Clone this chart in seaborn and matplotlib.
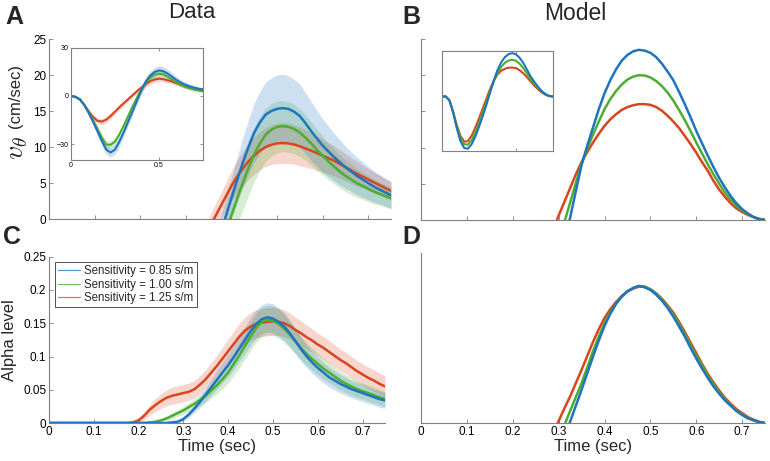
import numpy as np
import matplotlib
matplotlib.use("Agg")
import matplotlib.pyplot as plt
from matplotlib.lines import Line2D
import seaborn as sns

# =========================================
# Data
# =========================================

labels = ["Sensitivity = 0.85 s/m", "Sensitivity = 1.00 s/m", "Sensitivity = 1.25 s/m"]
colors = ["#1F74C0", "#4DAD2E", "#D8451E"]   # blue, green, red

# Panel A main: tangential velocity (cm/sec), mean and spread
t_a = np.round(np.arange(0.35, 0.7501, 0.0125), 4)
a_blue = [-7.0, -4.6, -2.3, 0.3, 2.9, 5.4, 7.8, 10.0, 12.0, 13.4, 14.5, 15.0, 15.3,
          15.4, 15.3, 14.9, 14.3, 13.3, 12.2, 11.2, 10.2, 9.4, 8.6, 7.9, 7.2,
          6.6, 6.0, 5.5, 5.0, 4.5, 4.1, 3.7, 3.3]
a_green = [-9.0, -6.6, -4.2, -1.8, 0.5, 2.8, 5.0, 7.1, 9.0, 10.5, 11.7, 12.4, 12.8,
           12.9, 12.8, 12.5, 12.0, 11.3, 10.5, 9.6, 8.8, 8.0, 7.3, 6.6, 6.0,
           5.5, 5.0, 4.6, 4.2, 3.8, 3.5, 3.2, 2.9]
a_red = [-1.4, 0.1, 1.6, 3.1, 4.6, 5.9, 7.0, 8.0, 8.8, 9.5, 10.0, 10.3, 10.5,
         10.55, 10.5, 10.35, 10.1, 9.8, 9.5, 9.15, 8.8, 8.45, 8.1, 7.65, 7.2,
         6.75, 6.3, 5.9, 5.5, 5.1, 4.7, 4.3, 3.9]
a_blue_sd = [2.0, 2.15, 2.3, 2.55, 2.8, 3.15, 3.5, 3.8, 4.1, 4.3, 4.5, 4.6, 4.7,
             4.7, 4.6, 4.5, 4.4, 4.25, 4.1, 3.9, 3.7, 3.5, 3.3, 3.1, 2.9,
             2.75, 2.6, 2.45, 2.3, 2.15, 2.0, 1.9, 1.8]
a_green_sd = [2.5, 2.75, 3.0, 3.25, 3.5, 3.65, 3.8, 3.8, 3.8, 3.75, 3.7, 3.65, 3.6,
              3.55, 3.5, 3.4, 3.3, 3.15, 3.0, 2.85, 2.7, 2.55, 2.4, 2.3, 2.2,
              2.1, 2.0, 1.9, 1.8, 1.7, 1.6, 1.55, 1.5]
a_red_sd = [1.5, 1.65, 1.8, 1.95, 2.1, 2.25, 2.4, 2.5, 2.6, 2.65, 2.7, 2.75, 2.8,
            2.8, 2.8, 2.75, 2.7, 2.6, 2.5, 2.4, 2.3, 2.2, 2.1, 2.0, 1.9,
            1.8, 1.7, 1.6, 1.5, 1.45, 1.4, 1.35, 1.3]

# Insets (whole movement)
t_in = np.round(np.arange(0.0, 0.7501, 0.025), 4)
ia_blue = [0, -0.5, -2.0, -5.5, -10.5, -16.0, -22.0, -28.0, -33.5, -35.3,
           -33.5, -28.5, -22.5, -16.0, -9.5, -3.0, 3.5, 9.0, 12.8, 15.0,
           16.0, 15.5, 14.0, 12.0, 10.0, 8.3, 7.0, 6.0, 5.2, 4.5, 4.0]
ia_green = [0, -0.5, -2.0, -5.3, -10.0, -15.0, -20.5, -26.0, -30.3, -30.5,
            -28.5, -24.0, -18.5, -12.5, -6.5, -1.0, 4.2, 8.5, 11.5, 13.3,
            14.0, 13.5, 12.0, 10.3, 8.5, 7.0, 5.8, 4.8, 4.0, 3.5, 3.0]
ia_red = [0, -0.5, -2.3, -5.5, -9.5, -13.0, -15.5, -16.0, -14.8, -12.5,
          -9.8, -7.0, -4.5, -2.0, 0.5, 3.0, 5.3, 7.5, 9.3, 10.3,
          10.8, 10.5, 9.8, 9.0, 8.0, 7.0, 6.0, 5.3, 4.8, 4.4, 4.0]
ia_blue_sd = [0, 0.3, 0.6, 1.0, 1.5, 2.0, 2.4, 2.8, 3.0, 3.0,
              3.0, 2.8, 2.6, 2.5, 2.4, 2.4, 2.5, 2.7, 2.9, 3.0,
              3.0, 2.9, 2.7, 2.5, 2.2, 2.0, 1.8, 1.6, 1.4, 1.3, 1.2]
ia_green_sd = [0, 0.2, 0.5, 0.8, 1.2, 1.6, 2.0, 2.3, 2.5, 2.5,
               2.4, 2.2, 2.1, 2.0, 1.9, 1.9, 2.0, 2.1, 2.2, 2.3,
               2.3, 2.2, 2.1, 1.9, 1.7, 1.5, 1.4, 1.2, 1.1, 1.0, 1.0]
ia_red_sd = [0, 0.2, 0.4, 0.7, 1.0, 1.3, 1.6, 1.8, 1.9, 1.9,
             1.8, 1.7, 1.6, 1.5, 1.5, 1.5, 1.6, 1.7, 1.8, 1.8,
             1.8, 1.7, 1.6, 1.5, 1.4, 1.3, 1.2, 1.1, 1.0, 1.0, 1.0]

ib_blue = [0, 0, -2.5, -10.5, -21.0, -29.5, -34.0, -34.5, -31.5, -26.5,
           -20.0, -13.0, -5.5, 2.5, 10.5, 17.5, 22.5, 26.0, 28.0, 28.6,
           27.8, 25.5, 22.0, 17.5, 13.0, 9.5, 6.2, 3.5, 1.5, 0.3, 0.0]
ib_green = [0, 0, -2.5, -10.0, -19.5, -27.0, -31.5, -31.8, -29.0, -24.0,
            -17.5, -10.5, -3.5, 3.5, 10.0, 15.5, 19.5, 22.3, 23.8, 24.2,
            23.6, 21.6, 18.6, 15.0, 11.3, 8.0, 5.2, 3.0, 1.3, 0.3, 0.0]
ib_red = [0, 0, -2.5, -10.0, -19.0, -26.0, -29.8, -29.5, -26.0, -20.5,
          -14.5, -8.0, -1.5, 5.0, 10.5, 14.5, 17.0, 18.3, 19.0, 19.1,
          18.7, 17.3, 15.2, 12.6, 9.8, 7.0, 4.6, 2.6, 1.1, 0.3, 0.0]

# Panel B main (model velocity)
t_b = np.round(np.arange(0.2875, 0.7501, 0.0125), 4)
b_blue = [-9.2, -6.0, -2.8, 0.3, 4.0, 7.6, 10.3, 12.8, 15.3, 17.5, 19.3, 20.8, 22.0,
          22.8, 23.3, 23.5, 23.4, 23.1, 22.5, 21.6, 20.5, 19.3, 17.7, 16.0, 14.2,
          12.3, 10.6, 8.9, 7.3, 5.8, 4.5, 3.3, 2.3, 1.5, 0.9, 0.4, 0.1, 0.0]
b_green = [-5.8, -3.0, -0.3, 2.4, 5.1, 7.8, 9.9, 11.8, 13.6, 15.3, 16.7, 17.8, 18.7,
           19.4, 19.8, 20.0, 19.95, 19.7, 19.2, 18.5, 17.6, 16.5, 15.2, 13.8, 12.3,
           10.7, 9.2, 7.7, 6.3, 5.0, 3.8, 2.8, 2.0, 1.3, 0.8, 0.4, 0.1, 0.0]
b_red = [-1.4, 0.6, 2.5, 4.4, 6.3, 8.0, 9.4, 10.7, 11.9, 13.0, 13.9, 14.6, 15.2,
         15.6, 15.85, 16.0, 16.0, 15.9, 15.6, 15.1, 14.4, 13.6, 12.7, 11.6, 10.5,
         9.3, 8.0, 6.8, 5.4, 4.2, 3.2, 2.3, 1.6, 1.1, 0.7, 0.4, 0.15, 0.0]

# Panel C: alpha level (data), mean and spread; flat zero before 0.15 s
t_c = np.concatenate([[0.0], np.round(np.arange(0.15, 0.7501, 0.0125), 4)])
c_blue = [0, 0, 0, 0, 0, 0, 0, 0, 0, 0, 0,
          0.001, 0.002, 0.006, 0.013, 0.022, 0.032, 0.043, 0.054, 0.065, 0.076,
          0.087, 0.099, 0.112, 0.125, 0.138, 0.149, 0.156, 0.159, 0.157, 0.152,
          0.145, 0.135, 0.123, 0.111, 0.100, 0.091, 0.083, 0.076, 0.069, 0.064,
          0.059, 0.055, 0.051, 0.048, 0.045, 0.042, 0.039, 0.036, 0.034]
c_green = [0, 0, 0, 0, 0, 0, 0,
           0.001, 0.002, 0.004, 0.007, 0.011, 0.015, 0.019, 0.024, 0.029, 0.035,
           0.041, 0.049, 0.057, 0.066, 0.076, 0.089, 0.102, 0.116, 0.130, 0.143,
           0.152, 0.155, 0.154, 0.149, 0.142, 0.133, 0.123, 0.113, 0.104, 0.096,
           0.089, 0.082, 0.076, 0.070, 0.064, 0.059, 0.055, 0.051, 0.048, 0.045,
           0.042, 0.039, 0.036]
c_red = [0, 0, 0, 0, 0.001, 0.004, 0.011, 0.020, 0.027, 0.033, 0.038,
         0.041, 0.043, 0.045, 0.047, 0.051, 0.058, 0.066, 0.076, 0.086, 0.097,
         0.108, 0.119, 0.130, 0.139, 0.145, 0.149, 0.151, 0.152, 0.153, 0.152,
         0.150, 0.146, 0.140, 0.135, 0.129, 0.124, 0.118, 0.113, 0.107, 0.101,
         0.095, 0.090, 0.084, 0.078, 0.073, 0.068, 0.064, 0.059, 0.055]
c_blue_sd = [0, 0, 0, 0, 0, 0, 0, 0, 0, 0, 0,
             0.001, 0.002, 0.003, 0.0045, 0.006, 0.008, 0.010, 0.012, 0.014, 0.0155,
             0.017, 0.018, 0.019, 0.020, 0.021, 0.0215, 0.022, 0.022, 0.022, 0.0215,
             0.021, 0.020, 0.019, 0.018, 0.017, 0.0165, 0.016, 0.0155, 0.015, 0.0145,
             0.014, 0.0135, 0.013, 0.013, 0.013, 0.0125, 0.012, 0.012, 0.012]
c_green_sd = [0, 0, 0, 0, 0, 0, 0,
              0.001, 0.0015, 0.002, 0.003, 0.004, 0.005, 0.006, 0.007, 0.008, 0.009,
              0.010, 0.0115, 0.013, 0.0145, 0.016, 0.0175, 0.019, 0.020, 0.021, 0.0215,
              0.022, 0.022, 0.022, 0.0215, 0.021, 0.020, 0.019, 0.018, 0.017, 0.0165,
              0.016, 0.0155, 0.015, 0.0145, 0.014, 0.0135, 0.013, 0.0125, 0.012, 0.012,
              0.012, 0.0115, 0.011]
c_red_sd = [0, 0, 0, 0.001, 0.002, 0.004, 0.006, 0.008, 0.0095, 0.011, 0.012,
            0.013, 0.013, 0.013, 0.013, 0.013, 0.0135, 0.014, 0.015, 0.016, 0.017,
            0.018, 0.019, 0.020, 0.0205, 0.021, 0.021, 0.021, 0.021, 0.021, 0.0205,
            0.020, 0.0195, 0.019, 0.0185, 0.018, 0.0175, 0.017, 0.017, 0.017, 0.0165,
            0.016, 0.016, 0.016, 0.016, 0.016, 0.016, 0.016, 0.016, 0.016]

# Panel D: alpha level (model)
t_d = np.round(np.arange(0.275, 0.7501, 0.0125), 4)
d_blue = [-0.08, -0.059, -0.038, -0.018, 0.002, 0.026, 0.050, 0.075, 0.100, 0.124,
          0.146, 0.164, 0.179, 0.190, 0.198, 0.203, 0.206, 0.204, 0.200, 0.193,
          0.184, 0.173, 0.160, 0.145, 0.130, 0.113, 0.097, 0.082, 0.068, 0.055,
          0.044, 0.034, 0.026, 0.018, 0.012, 0.007, 0.004, 0.001, 0.0]
d_green = [-0.06, -0.042, -0.023, -0.003, 0.018, 0.039, 0.060, 0.084, 0.108, 0.130,
           0.150, 0.166, 0.180, 0.190, 0.198, 0.203, 0.206, 0.205, 0.201, 0.195,
           0.186, 0.175, 0.163, 0.149, 0.134, 0.117, 0.101, 0.086, 0.071, 0.058,
           0.046, 0.036, 0.027, 0.019, 0.013, 0.008, 0.004, 0.001, 0.0]
d_red = [-0.04, -0.018, 0.003, 0.022, 0.040, 0.060, 0.080, 0.101, 0.122, 0.141,
         0.158, 0.171, 0.182, 0.191, 0.198, 0.202, 0.205, 0.205, 0.201, 0.195,
         0.187, 0.177, 0.166, 0.152, 0.137, 0.121, 0.105, 0.089, 0.074, 0.061,
         0.049, 0.038, 0.029, 0.021, 0.015, 0.009, 0.005, 0.002, 0.0]

# =========================================
# Style
# =========================================

sns.set_style("white")
plt.rcParams["font.family"] = ["Liberation Sans", "DejaVu Sans"]
plt.rcParams["mathtext.fontset"] = "cm"

SPINE = "#808080"


def style(ax, box=False, size=8.5):
    for side in ["top", "right"]:
        ax.spines[side].set_visible(box)
    for s in ax.spines.values():
        s.set_color(SPINE)
        s.set_linewidth(0.8)
    ax.tick_params(direction="in", length=3, width=0.6, color=SPINE,
                   labelsize=size, labelcolor="black", pad=2,
                   top=box, right=box, bottom=True, left=True)


def draw(ax, t, series, sds=None, lw=1.8):
    # red first so the blue curve ends up on top
    for i in [2, 1, 0]:
        if sds is not None:
            m = np.array(series[i])
            s = np.array(sds[i])
            ax.fill_between(t, m - s, m + s, color=colors[i], alpha=0.22, lw=0)
        sns.lineplot(x=t, y=series[i], ax=ax, color=colors[i], lw=lw,
                     solid_joinstyle="round", solid_capstyle="round")
    ax.set_xlabel("")
    ax.set_ylabel("")


fig = plt.figure(figsize=(7.7, 4.61), dpi=100)

# ---- A ----
ax_a = fig.add_axes([0.0636, 0.5249, 0.4442, 0.3905])
draw(ax_a, t_a, [a_blue, a_green, a_red], [a_blue_sd, a_green_sd, a_red_sd])
ax_a.set_xlim(0, 0.75)
ax_a.set_ylim(0, 25)
ax_a.set_xticks(np.arange(0, 0.76, 0.1))
ax_a.set_xticklabels([])
ax_a.set_yticks([0, 5, 10, 15, 20, 25])
style(ax_a)

ax_ai = fig.add_axes([0.0922, 0.6529, 0.1714, 0.243])
draw(ax_ai, t_in, [ia_blue, ia_green, ia_red], [ia_blue_sd, ia_green_sd, ia_red_sd], lw=1.5)
ax_ai.set_xlim(0, 0.75)
ax_ai.set_ylim(-40, 30)
ax_ai.set_xticks([0, 0.5])
ax_ai.set_xticklabels(["0", "0.5"])
ax_ai.set_yticks([-30, 0, 30])
style(ax_ai, box=True, size=5)
ax_ai.tick_params(length=2, pad=1.5)

# ---- B ----
ax_b = fig.add_axes([0.5468, 0.5228, 0.4468, 0.3926])
draw(ax_b, t_b, [b_blue, b_green, b_red])
ax_b.set_xlim(0, 0.75)
ax_b.set_ylim(0, 25)
ax_b.set_xticks(np.arange(0, 0.76, 0.1))
ax_b.set_yticks([0, 5, 10, 15, 20, 25])
ax_b.set_xticklabels([])
ax_b.set_yticklabels([])
style(ax_b)

ax_bi = fig.add_axes([0.574, 0.6724, 0.1442, 0.2169])
draw(ax_bi, t_in, [ib_blue, ib_green, ib_red], lw=1.5)
ax_bi.set_xlim(0, 0.75)
ax_bi.set_ylim(-36, 30)
ax_bi.set_xticks([0.5])
ax_bi.set_yticks([])
ax_bi.set_xticklabels([])
style(ax_bi, box=True, size=5)
ax_bi.tick_params(length=2)

# ---- C ----
ax_c = fig.add_axes([0.0636, 0.0824, 0.4364, 0.3607])
draw(ax_c, t_c, [c_blue, c_green, c_red], [c_blue_sd, c_green_sd, c_red_sd])
ax_c.set_xlim(0, 0.75)
ax_c.set_ylim(0, 0.25)
ax_c.set_xticks(np.arange(0, 0.71, 0.1))
ax_c.set_xticklabels(["0", "0.1", "0.2", "0.3", "0.4", "0.5", "0.6", "0.7"])
ax_c.set_yticks([0, 0.05, 0.1, 0.15, 0.2, 0.25])
ax_c.set_yticklabels(["0", "0.05", "0.1", "0.15", "0.2", "0.25"])
style(ax_c)
ax_c.set_xlabel("Time (sec)", fontsize=12, labelpad=1)
ax_c.set_ylabel("Alpha level", fontsize=12)
ax_c.yaxis.set_label_coords(-0.095, 0.5)

handles = [Line2D([], [], color=colors[i], lw=0.9, alpha=0.75) for i in range(3)]
leg = ax_c.legend(handles, labels, loc="upper left", bbox_to_anchor=(0.018, 0.97),
                  borderaxespad=0, fontsize=8.3, frameon=True, fancybox=False,
                  framealpha=1, edgecolor="#333333", handlelength=1.9,
                  handletextpad=0.3, labelspacing=0.12, borderpad=0.3)
leg.get_frame().set_linewidth(0.6)

# ---- D ----
ax_d = fig.add_axes([0.5468, 0.0824, 0.4468, 0.3694])
draw(ax_d, t_d, [d_blue, d_green, d_red])
ax_d.set_xlim(0, 0.75)
ax_d.set_ylim(0, 0.256)
ax_d.set_xticks(np.arange(0, 0.71, 0.1))
ax_d.set_xticklabels(["0", "0.1", "0.2", "0.3", "0.4", "0.5", "0.6", "0.7"])
ax_d.set_yticks([])
style(ax_d)
ax_d.set_xlabel("Time (sec)", fontsize=12, labelpad=1)

# ---- titles, panel letters, A y-label ----
fig.text(192 / 770, 1 - 13 / 461, "Data", ha="center", va="center", fontsize=16)
fig.text(575 / 770, 1 - 13 / 461, "Model", ha="center", va="center", fontsize=16.5)
for letter, x, y in [("A", 5, 5), ("B", 402, 5), ("C", 3, 225), ("D", 402, 225)]:
    fig.text(x / 770, 1 - y / 461, letter, ha="left", va="top",
             fontsize=18, fontweight="bold")
fig.text(15 / 770, 1 - 96 / 461, "(cm/sec)", rotation=90, ha="center", va="center", fontsize=12)
fig.text(17 / 770, 1 - 148 / 461, r"$v_\theta$", rotation=90, ha="center", va="center", fontsize=20)

fig.savefig("out.png", dpi=100)
